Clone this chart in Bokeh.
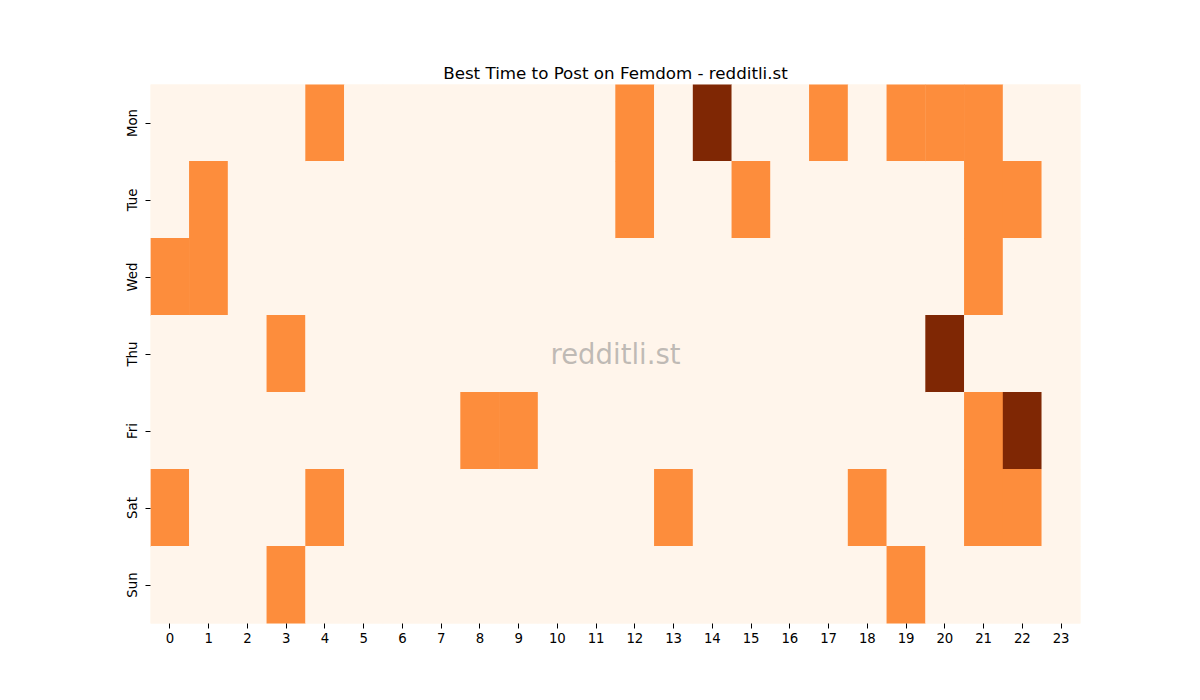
import math
from bokeh.plotting import figure
from bokeh.models import ColumnDataSource, LinearColorMapper, FactorRange, Label
from bokeh.transform import transform
from bokeh.embed import file_html
from bokeh.resources import INLINE

days = ["Mon", "Tue", "Wed", "Thu", "Fri", "Sat", "Sun"]
hours = [str(h) for h in range(24)]

# activity level per day (0 = none, 1 = medium, 2 = high), hours 0..23
mon = [0,0,0,0,1,0,0,0,0,0,0,0,1,0,2,0,0,1,0,1,1,1,0,0]
tue = [0,1,0,0,0,0,0,0,0,0,0,0,1,0,0,1,0,0,0,0,0,1,1,0]
wed = [1,1,0,0,0,0,0,0,0,0,0,0,0,0,0,0,0,0,0,0,0,1,0,0]
thu = [0,0,0,1,0,0,0,0,0,0,0,0,0,0,0,0,0,0,0,0,2,0,0,0]
fri = [0,0,0,0,0,0,0,0,1,1,0,0,0,0,0,0,0,0,0,0,0,1,2,0]
sat = [1,0,0,0,1,0,0,0,0,0,0,0,0,1,0,0,0,0,1,0,0,1,1,0]
sun = [0,0,0,1,0,0,0,0,0,0,0,0,0,0,0,0,0,0,0,1,0,0,0,0]
values = [mon, tue, wed, thu, fri, sat, sun]

palette = ["#fff5eb", "#fd8d3c", "#7f2704"]

xs, ys, vs = [], [], []
for d, row in zip(days, values):
    for h, v in zip(hours, row):
        xs.append(h)
        ys.append(d)
        vs.append(v)
src = ColumnDataSource(dict(x=xs, y=ys, v=vs))

W, H = 1190, 690
p = figure(width=W, height=H, output_backend="svg", toolbar_location=None,
           x_range=FactorRange(factors=hours, range_padding=0),
           y_range=FactorRange(factors=list(reversed(days)), range_padding=0),
           min_border_left=150, min_border_right=110,
           min_border_top=84, min_border_bottom=67)
p.background_fill_color = "#fff5eb"
p.border_fill_color = "white"
p.outline_line_color = None
p.grid.visible = False

mapper = LinearColorMapper(palette=palette, low=0, high=2)
p.rect(x="x", y="y", width=1.01, height=1.01, source=src,
       fill_color=transform("v", mapper), line_color=None)

p.title.text = "Best Time to Post on Femdom - redditli.st"
p.title.align = "center"
p.title.text_font = "DejaVu Sans"
p.title.text_font_size = "16.7px"
p.title.text_font_style = "normal"
p.title.text_color = "black"
p.title.standoff = 4

for ax in (p.xaxis, p.yaxis):
    ax.axis_line_color = None
    ax.major_tick_line_color = "black"
    ax.major_tick_out = 5
    ax.major_tick_in = 0
    ax.minor_tick_line_color = None
    ax.major_label_text_font = "DejaVu Sans"
    ax.major_label_text_font_size = "13.3px"
    ax.major_label_text_color = "black"
    ax.major_label_standoff = 4
p.yaxis.major_label_orientation = "parallel"
p.yaxis.major_label_standoff = 6

wm = Label(x=465, y=269.5, x_units="screen", y_units="screen",
           text="redditli.st", text_align="center", text_baseline="middle",
           text_font="DejaVu Sans", text_font_size="27.5px",
           text_color="gray", text_alpha=0.5)
p.add_layout(wm)

open("out.html", "w").write(file_html(p, INLINE))
